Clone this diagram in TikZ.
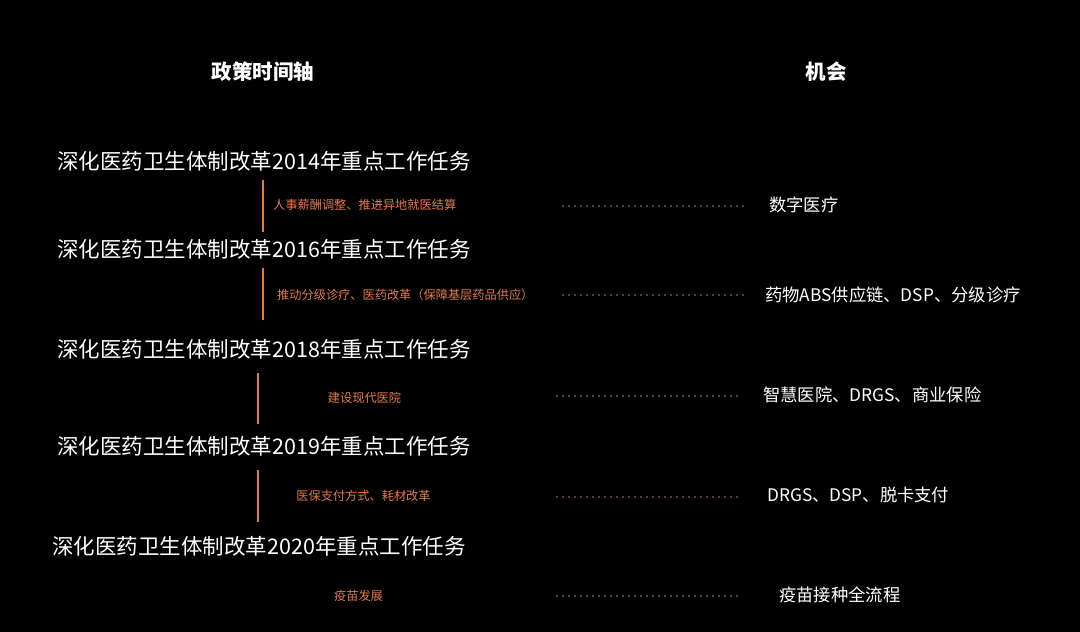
\documentclass[tikz,border=0pt]{standalone}
\usepackage{fontspec}
\setmainfont{Noto Sans CJK SC}
\definecolor{accent}{HTML}{E27A4C}
\definecolor{dotc}{HTML}{C27A52}
\begin{document}
\begin{tikzpicture}[x=1pt,y=-1pt,
  title/.style={text=white,font=\fontsize{20.5}{20.5}\selectfont\bfseries,inner sep=0pt},
  head/.style={text=white,font=\fontsize{21.5}{22}\selectfont,inner sep=0pt},
  sub/.style={text=accent,font=\fontsize{12.2}{12.2}\selectfont,inner sep=0pt},
  opp/.style={text=white,font=\fontsize{17.3}{17.3}\selectfont,inner sep=0pt},
  vline/.style={draw=accent,line width=1.2pt},
  dotline/.style={draw=dotc,line width=1.8pt,line cap=round,dash pattern=on 0pt off 6pt}]
\fill[black] (0,0) rectangle (1080,632);
\useasboundingbox (0,0) rectangle (1080,632);
\node[title] (t1) at (263,72) {政策时间轴};
\node[title] (t2) at (826,72) {机会};
% headings
\node[head] (h1) at (264,161) {深化医药卫生体制改革2014年重点工作任务};
\node[head] (h2) at (264,249) {深化医药卫生体制改革2016年重点工作任务};
\node[head] (h3) at (264,349) {深化医药卫生体制改革2018年重点工作任务};
\node[head] (h4) at (264,446) {深化医药卫生体制改革2019年重点工作任务};
\node[head] (h5) at (259,546) {深化医药卫生体制改革2020年重点工作任务};
% vertical lines
\coordinate (v1a) at (263,180); \coordinate (v1b) at (263,232);
\coordinate (v2a) at (263,268); \coordinate (v2b) at (263,320);
\coordinate (v3a) at (258,373); \coordinate (v3b) at (258,424);
\coordinate (v4a) at (258,470); \coordinate (v4b) at (258,522);
\draw[vline] (v1a) -- (v1b);
\draw[vline] (v2a) -- (v2b);
\draw[vline] (v3a) -- (v3b);
\draw[vline] (v4a) -- (v4b);
% sub labels
\node[sub,anchor=west] (s1) at (273,205) {人事薪酬调整、推进异地就医结算};
\node[sub,anchor=west] (s2) at (277,295) {推动分级诊疗、医药改革（保障基层药品供应）};
\node[sub] (s3) at (364.5,398) {建设现代医院};
\node[sub] (s4) at (363.5,496) {医保支付方式、耗材改革};
\node[sub] (s5) at (358.5,596) {疫苗发展};
% opportunities
\node[opp,anchor=west] (o1) at (769,205) {数字医疗};
\node[opp,anchor=west] (o2) at (765,295) {药物ABS供应链、DSP、分级诊疗};
\node[opp,anchor=west] (o3) at (763,395) {智慧医院、DRGS、商业保险};
\node[opp,anchor=west] (o4) at (767,495) {DRGS、DSP、脱卡支付};
\node[opp,anchor=west] (o5) at (779,595) {疫苗接种全流程};
% dotted connectors
\coordinate (d1a) at (563,206); \coordinate (d1b) at (745,206);
\coordinate (d2a) at (563,295); \coordinate (d2b) at (745,295);
\coordinate (d3a) at (557,396); \coordinate (d3b) at (740,396);
\coordinate (d4a) at (557,497); \coordinate (d4b) at (740,497);
\coordinate (d5a) at (557,596); \coordinate (d5b) at (740,596);
\draw[dotline] (d1a) -- (d1b);
\draw[dotline] (d2a) -- (d2b);
\draw[dotline] (d3a) -- (d3b);
\draw[dotline] (d4a) -- (d4b);
\draw[dotline] (d5a) -- (d5b);
\end{tikzpicture}
\end{document}
